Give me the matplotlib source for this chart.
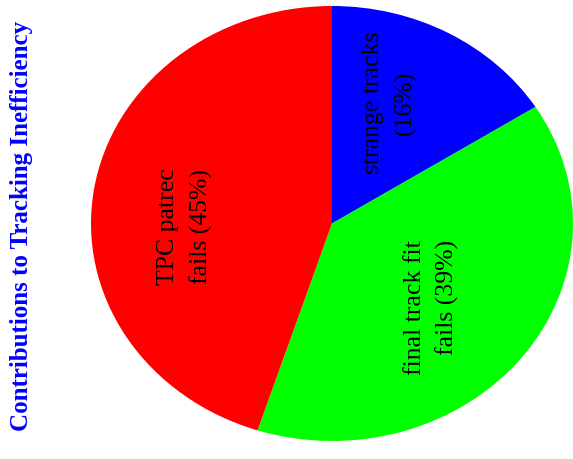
import matplotlib.pyplot as plt

plt.rcParams['font.family'] = ['Liberation Serif', 'DejaVu Serif']

LABELS = ["strange tracks\n(16%)", "final track fit\nfails (39%)", "TPC patrec\nfails (45%)"]
SHARES = [16, 39, 45]
COLORS = ["#0000ff", "#00ff00", "#ff0000"]
TITLE = "Contributions to Tracking Inefficiency"

# label centres (data coords of the unit pie) and line alignment
LABEL_POS = [(0.24, 0.557), (0.413, -0.385), (-0.61, -0.014)]
LABEL_ALIGN = ["center", "right", "center"]

W, H = 573, 459


def main():
    fig = plt.figure(figsize=(W / 100, H / 100), dpi=100)
    ax = fig.add_axes([91 / W, 1 - 441 / H, 482 / W, 435 / H])
    ax.pie(SHARES, colors=COLORS, startangle=90, counterclock=False,
           wedgeprops=dict(linewidth=0))
    ax.set_aspect('auto')
    ax.set_xlim(-1, 1)
    ax.set_ylim(-1, 1)
    ax.axis('off')

    for txt, (x, y), al in zip(LABELS, LABEL_POS, LABEL_ALIGN):
        ax.text(x, y, txt, rotation=90, ha='center', va='center',
                multialignment=al, fontsize=18.5, linespacing=1.55,
                color='black')

    fig.text(22 / W, 1 - 226 / H, TITLE, rotation=90, ha='center',
             va='center', fontsize=18, fontweight='bold', color='#0000ff')

    fig.savefig("out.png", dpi=100)


if __name__ == '__main__':
    main()
